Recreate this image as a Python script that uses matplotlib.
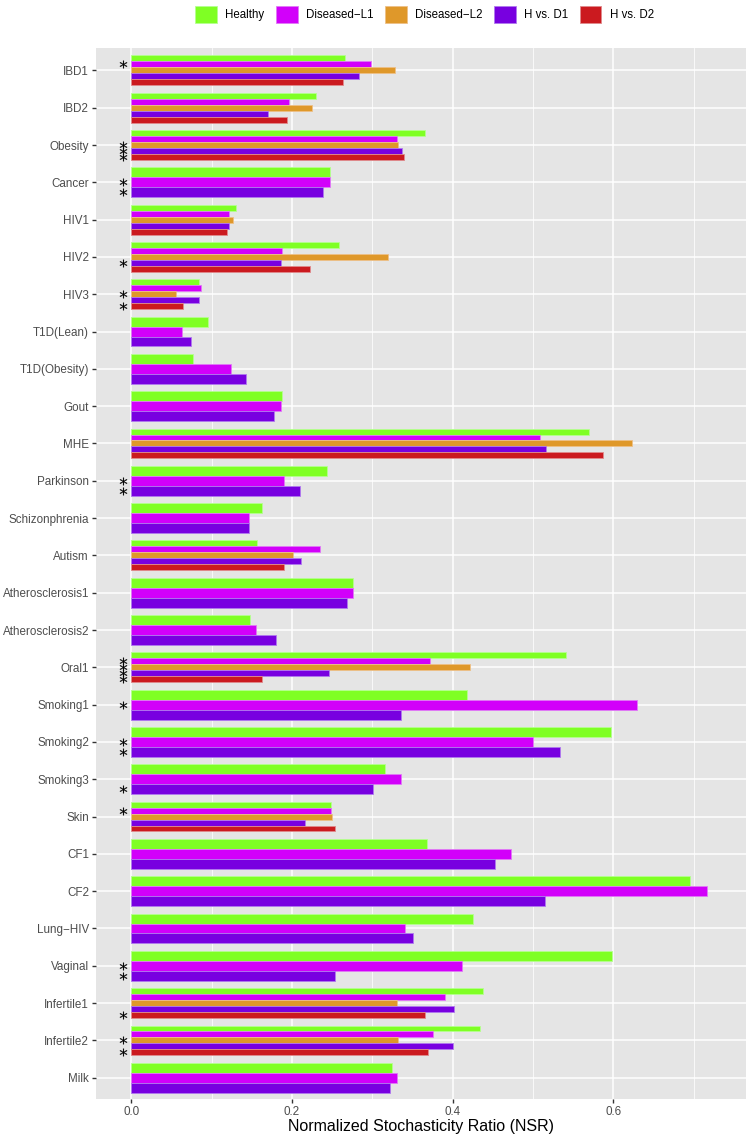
import matplotlib
matplotlib.use("Agg")
import matplotlib.pyplot as plt
from matplotlib.patches import Patch
from matplotlib.ticker import MultipleLocator
import numpy as np

plt.rcParams['font.family'] = ['Liberation Sans', 'DejaVu Sans']

categories = ['IBD1', 'IBD2', 'Obesity', 'Cancer', 'HIV1', 'HIV2', 'HIV3', 'T1D(Lean)',
              'T1D(Obesity)', 'Gout', 'MHE', 'Parkinson', 'Schizonphrenia', 'Autism',
              'Atherosclerosis1', 'Atherosclerosis2', 'Oral1', 'Smoking1', 'Smoking2',
              'Smoking3', 'Skin', 'CF1', 'CF2', 'Lung\u2212HIV', 'Vaginal', 'Infertile1',
              'Infertile2', 'Milk']

# None = group not present for that study
healthy = [0.266, 0.230, 0.366, 0.247, 0.130, 0.259, 0.084, 0.095, 0.077, 0.188, 0.569, 0.243,
           0.163, 0.157, 0.276, 0.148, 0.541, 0.418, 0.597, 0.316, 0.248, 0.368, 0.695, 0.425,
           0.598, 0.438, 0.434, 0.325]
diseased_l1 = [0.298, 0.196, 0.331, 0.247, 0.122, 0.188, 0.087, 0.063, 0.124, 0.186, 0.509, 0.190,
               0.147, 0.235, 0.276, 0.155, 0.372, 0.629, 0.500, 0.336, 0.249, 0.473, 0.717, 0.340,
               0.412, 0.390, 0.376, 0.331]
diseased_l2 = [0.328, 0.225, 0.332, None, 0.127, 0.319, 0.055, None, None, None, 0.623, None,
               None, 0.201, None, None, 0.422, None, None, None, 0.250, None, None, None,
               None, 0.331, 0.332, None]
h_vs_d1 = [0.283, 0.170, 0.337, 0.239, 0.122, 0.186, 0.084, 0.074, 0.143, 0.178, 0.516, 0.210,
           0.146, 0.211, 0.268, 0.180, 0.246, 0.335, 0.533, 0.301, 0.216, 0.452, 0.515, 0.351,
           0.254, 0.402, 0.400, 0.322]
h_vs_d2 = [0.264, 0.194, 0.339, None, 0.119, 0.222, 0.064, None, None, None, 0.587, None,
           None, 0.190, None, None, 0.163, None, None, None, 0.254, None, None, None,
           None, 0.366, 0.369, None]

# significance marks (*) per series
star_l1 = ['IBD1', 'Cancer', 'Parkinson', 'Oral1', 'Smoking1', 'Smoking2', 'Skin', 'Vaginal']
star_l2 = ['Obesity', 'HIV3', 'Oral1', 'Infertile2']
star_d1 = ['Obesity', 'Cancer', 'HIV2', 'Parkinson', 'Oral1', 'Smoking2', 'Smoking3', 'Vaginal']
star_d2 = ['Obesity', 'HIV3', 'Oral1', 'Infertile1', 'Infertile2']

series = ['Healthy', 'Diseased\u2212L1', 'Diseased\u2212L2', 'H vs. D1', 'H vs. D2']
values = [healthy, diseased_l1, diseased_l2, h_vs_d1, h_vs_d2]
stars = [[], star_l1, star_l2, star_d1, star_d2]
colors = ['#7FFF24', '#D200FA', '#DF982A', '#7800E0', '#CB1A1F']
edges = ['#B5FF90', '#E07AF5', '#EDC088', '#B07AEE', '#E08A8C']

fig = plt.figure(figsize=(7.46, 11.35), dpi=100)
ax = fig.add_axes([96 / 746, 36 / 1135, 650 / 746, 1051 / 1135])
ax.set_facecolor('#E5E5E5')

total = 0.8
star_x, star_y = [], []
for ci, cat in enumerate(categories):
    present = [si for si in range(len(series)) if values[si][ci] is not None]
    w = total / len(present)
    for k, si in enumerate(present):
        y = ci - total / 2 + w * (k + 0.5)
        ax.barh(y, values[si][ci], height=w, color=colors[si], edgecolor=edges[si],
                linewidth=0.6, zorder=3)
        if cat in stars[si]:
            star_x.append(-0.0105)
            star_y.append(y)

ax.scatter(star_x, star_y, marker='$*$', s=30, color='black', edgecolors='black',
           linewidths=0.15, zorder=4)

ax.set_xlim(-0.044, 0.765)
ax.set_ylim(len(categories) - 0.43, -0.6)
ax.set_yticks(range(len(categories)))
ax.set_yticklabels(categories)
ax.xaxis.set_minor_locator(MultipleLocator(0.1))
ax.set_xticks([0.0, 0.2, 0.4, 0.6])
ax.set_xticklabels(['0.0', '0.2', '0.4', '0.6'])

ax.grid(True, which='major', color='white', linewidth=1.1, zorder=0)
ax.grid(True, which='minor', axis='x', color='white', linewidth=0.55, zorder=0)
ax.set_axisbelow(True)
for s in ax.spines.values():
    s.set_visible(False)
ax.tick_params(axis='both', which='major', length=3, width=1, color='#333333',
               labelcolor='#4D4D4D', labelsize=8.4)
ax.tick_params(axis='both', which='minor', length=0)
ax.tick_params(axis='y', pad=2)
ax.tick_params(axis='x', pad=2)

ax.set_xlabel('Normalized Stochasticity Ratio (NSR)', fontsize=11.5, color='black', labelpad=1)

handles = [Patch(facecolor=colors[i], edgecolor=edges[i], linewidth=0.6, label=series[i])
           for i in range(len(series))]
fig.legend(handles=handles, loc='center', bbox_to_anchor=(0.569, 1 - 14.5 / 1135), ncol=5,
           frameon=False, fontsize=8.3, handlelength=1.9, handleheight=1.9,
           handletextpad=0.7, columnspacing=1.0, borderaxespad=0)

fig.savefig('out.png', dpi=100)
